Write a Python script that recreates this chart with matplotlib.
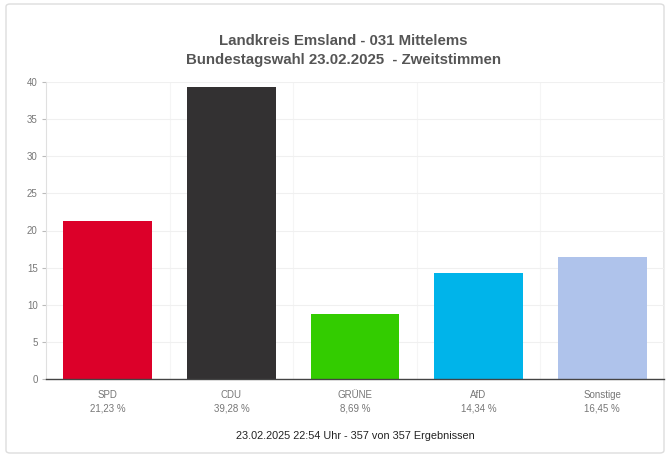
import matplotlib
matplotlib.use("Agg")
import matplotlib.pyplot as plt
from matplotlib.patches import FancyBboxPatch

parties = ["SPD", "CDU", "GRÜNE", "AfD", "Sonstige"]
values = [21.23, 39.28, 8.69, 14.34, 16.45]
value_labels = ["21,23 %", "39,28 %", "8,69 %", "14,34 %", "16,45 %"]
colors = ["#DC0029", "#333132", "#33CC00", "#00B4EA", "#AFC3EB"]
yticks = [0, 5, 10, 15, 20, 25, 30, 35, 40]
title = "Landkreis Emsland - 031 Mittelems\nBundestagswahl 23.02.2025  - Zweitstimmen"
footer = "23.02.2025 22:54 Uhr - 357 von 357 Ergebnissen"

plt.rcParams['font.family'] = ['Liberation Sans', 'DejaVu Sans']
W, H = 670, 458
fig = plt.figure(figsize=(W / 100, H / 100), dpi=100)
fig.patch.set_facecolor("white")

box = FancyBboxPatch((6 / W, 5 / H), 658 / W, 449 / H,
                     boxstyle="round,pad=0,rounding_size=0.006",
                     transform=fig.transFigure, facecolor="none",
                     edgecolor="#dddddd", linewidth=1.0, zorder=-5)
fig.patches.append(box)

ax = fig.add_axes([46 / W, 79 / H, 618 / W, 297 / H])
ax.set_facecolor("none")
x = list(range(len(parties)))
ax.bar(x, values, width=0.72, color=colors, zorder=3)
ax.set_xlim(-0.5, len(parties) - 0.5)
ax.set_ylim(0, 40)
ax.set_yticks(yticks)
ax.set_yticklabels([str(t) for t in yticks], fontsize=7, color="#777777")
ax.set_xticks(x)
ax.set_xticklabels([f"{p}\n{v}" for p, v in zip(parties, value_labels)],
                   fontsize=7, color="#777777", linespacing=1.4)
ax.tick_params(axis="x", length=0, pad=8)
ax.tick_params(axis="y", length=3, color="#bbbbbb", pad=3)
ax.yaxis.grid(True, color="#f0f0f0", linewidth=0.8, zorder=0)
ax.set_axisbelow(True)
for b in [0.5, 1.5, 2.5, 3.5]:
    ax.axvline(b, color="#f5f5f5", linewidth=0.8, zorder=0)
ax.spines["top"].set_visible(False)
ax.spines["right"].set_color("#eeeeee")
ax.spines["left"].set_color("#e0e0e0")
ax.spines["bottom"].set_color("#444444")
ax.spines["bottom"].set_linewidth(1.0)
ax.spines["bottom"].set_zorder(5)

fig.text(343 / W, 1 - 50.5 / H, title, ha="center", va="center",
         fontsize=10.8, fontweight="bold", color="#555555", linespacing=1.45)
fig.text(355 / W, 1 - 436 / H, footer, ha="center", va="center",
         fontsize=7.8, color="#222222")

fig.savefig("out.png", dpi=100)
